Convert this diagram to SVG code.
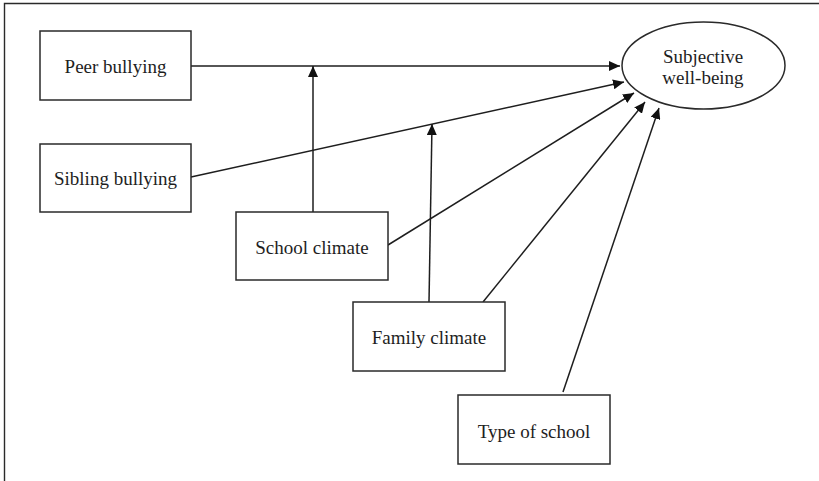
<svg xmlns="http://www.w3.org/2000/svg" width="819" height="481" viewBox="0 0 819 481">
  <style>
    .box { fill: #ffffff; stroke: #2a2a2a; stroke-width: 1.5; }
    .lbl { font-family: "Liberation Serif", "Times New Roman", serif; font-size: 19px; fill: #1e1e1e; text-anchor: middle; }
    .edge { stroke: #1e1e1e; stroke-width: 1.5; fill: none; marker-end: url(#arr); }
    .frame { stroke: #2a2a2a; stroke-width: 1.4; fill: none; }
  </style>
  <defs>
    <marker id="arr" markerUnits="userSpaceOnUse" markerWidth="11" markerHeight="10" refX="11" refY="5" orient="auto">
      <path d="M0,0 L11,5 L0,10 Z" fill="#111"/>
    </marker>
  </defs>
  <rect width="819" height="481" fill="#ffffff"/>
  <path class="frame" d="M4.5,481 L4.5,3.5 L819,3.5"/>

  <g id="connectors">
    <line class="edge" x1="191" y1="66" x2="620" y2="66"/>
    <line class="edge" x1="313" y1="212" x2="313" y2="66"/>
    <line class="edge" x1="191" y1="177" x2="624" y2="82"/>
    <line class="edge" x1="429" y1="302" x2="432" y2="124"/>
    <line class="edge" x1="388" y1="245" x2="634" y2="93"/>
    <line class="edge" x1="483" y1="302" x2="645" y2="102"/>
    <line class="edge" x1="563" y1="392" x2="659" y2="108"/>
  </g>

  <g id="peer-bullying">
    <rect class="box" x="40" y="31" width="151" height="69"/>
    <text class="lbl" x="115.5" y="73">Peer bullying</text>
  </g>
  <g id="sibling-bullying">
    <rect class="box" x="40" y="144" width="151" height="68"/>
    <text class="lbl" x="115.5" y="185">Sibling bullying</text>
  </g>
  <g id="school-climate">
    <rect class="box" x="236" y="212" width="152" height="68"/>
    <text class="lbl" x="312" y="254">School climate</text>
  </g>
  <g id="family-climate">
    <rect class="box" x="353" y="302" width="152" height="69"/>
    <text class="lbl" x="429" y="344">Family climate</text>
  </g>
  <g id="type-of-school">
    <rect class="box" x="458" y="395" width="152" height="69"/>
    <text class="lbl" x="534" y="438">Type of school</text>
  </g>
  <g id="subjective-well-being">
    <ellipse class="box" cx="703.5" cy="65.5" rx="81.5" ry="43.5"/>
    <text class="lbl" x="703" y="63">Subjective</text>
    <text class="lbl" x="703" y="84">well-being</text>
  </g>
</svg>
